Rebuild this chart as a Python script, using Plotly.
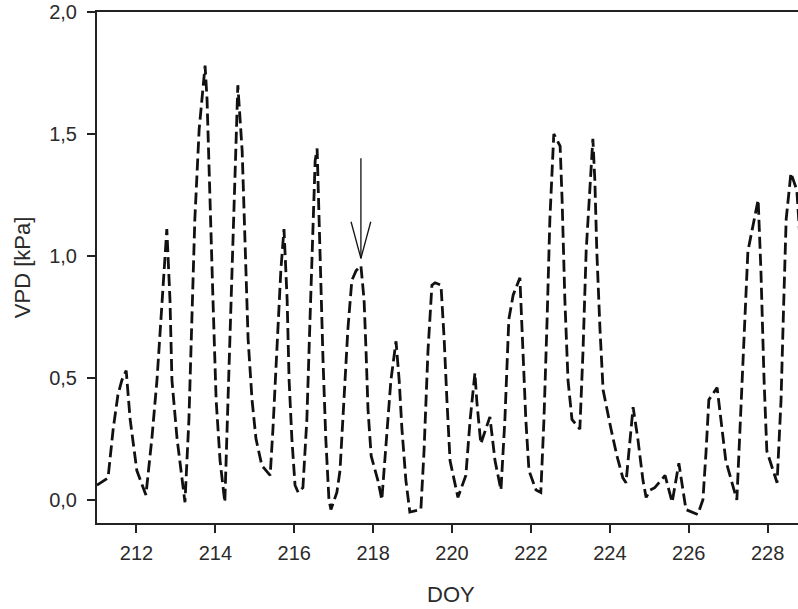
import plotly.graph_objects as go

doy = [211.00, 211.28, 211.41, 211.53, 211.63, 211.74, 211.84, 212.01, 212.24, 212.39,
       212.52, 212.62, 212.72, 212.77, 212.85, 212.90, 213.03, 213.23, 213.33, 213.41,
       213.48, 213.59, 213.74, 213.79, 213.86, 213.94, 214.02, 214.12, 214.24, 214.32,
       214.40, 214.47, 214.57, 214.68, 214.75, 214.83, 214.93, 215.03, 215.18, 215.39,
       215.46, 215.56, 215.66, 215.74, 215.82, 215.87, 215.94, 216.02, 216.10, 216.22,
       216.32, 216.40, 216.48, 216.53, 216.58, 216.65, 216.73, 216.80, 216.88, 216.93,
       217.08, 217.16, 217.26, 217.36, 217.46, 217.57, 217.69, 217.77, 217.82, 217.87,
       217.95, 218.12, 218.22, 218.33, 218.45, 218.58, 218.66, 218.73, 218.83, 218.93,
       219.21, 219.29, 219.39, 219.49, 219.57, 219.72, 219.80, 219.87, 219.95, 220.15,
       220.35, 220.46, 220.58, 220.63, 220.73, 220.96, 221.09, 221.24, 221.34, 221.44,
       221.55, 221.72, 221.80, 221.87, 221.95, 222.13, 222.25, 222.33, 222.41, 222.48,
       222.58, 222.74, 222.79, 222.86, 222.94, 223.04, 223.24, 223.32, 223.40, 223.57,
       223.62, 223.67, 223.75, 223.83, 224.03, 224.18, 224.33, 224.41, 224.59, 224.71,
       224.84, 224.92, 225.02, 225.14, 225.40, 225.58, 225.75, 225.93, 226.23, 226.36,
       226.44, 226.51, 226.72, 226.82, 226.94, 227.22, 227.30, 227.40, 227.50, 227.76,
       227.83, 227.91, 227.98, 228.24, 228.34, 228.41, 228.47, 228.59, 228.74, 228.82]

vpd = [0.06, 0.09, 0.29, 0.43, 0.49, 0.53, 0.33, 0.12, 0.02, 0.25,
       0.49, 0.74, 0.99, 1.11, 0.82, 0.49, 0.25, -0.01, 0.33, 0.74,
       1.15, 1.52, 1.78, 1.64, 1.23, 0.82, 0.41, 0.16, -0.01, 0.41,
       0.82, 1.23, 1.70, 1.43, 1.02, 0.66, 0.41, 0.25, 0.14, 0.10,
       0.29, 0.61, 0.94, 1.11, 0.82, 0.49, 0.25, 0.06, 0.03, 0.05,
       0.33, 0.74, 1.15, 1.39, 1.44, 0.98, 0.57, 0.25, 0.00, -0.04,
       0.03, 0.12, 0.41, 0.70, 0.90, 0.94, 0.96, 0.82, 0.61, 0.37,
       0.18, 0.08, 0.00, 0.25, 0.49, 0.65, 0.49, 0.29, 0.08, -0.05,
       -0.04, 0.20, 0.61, 0.88, 0.89, 0.88, 0.66, 0.41, 0.16, 0.01,
       0.10, 0.33, 0.52, 0.40, 0.23, 0.34, 0.16, 0.04, 0.33, 0.74,
       0.84, 0.91, 0.61, 0.33, 0.12, 0.04, 0.03, 0.33, 0.74, 1.15,
       1.50, 1.45, 1.23, 0.82, 0.49, 0.33, 0.29, 0.61, 1.02, 1.48,
       1.31, 1.02, 0.70, 0.45, 0.29, 0.18, 0.09, 0.07, 0.38, 0.25,
       0.08, 0.01, 0.04, 0.05, 0.10, -0.01, 0.15, -0.04, -0.06, 0.00,
       0.20, 0.41, 0.46, 0.33, 0.16, 0.00, 0.29, 0.70, 1.02, 1.23,
       0.94, 0.49, 0.20, 0.07, 0.41, 0.82, 1.15, 1.34, 1.27, 1.07]

x_ticks = [212, 214, 216, 218, 220, 222, 224, 226, 228]
y_ticks = [0.0, 0.5, 1.0, 1.5, 2.0]

arrow_x = 217.69
arrow_tip = 0.99
arrow_tail = 1.40
head_y = 1.14
head_half = 0.25

fig = go.Figure()
fig.add_trace(go.Scatter(
    x=doy, y=vpd, mode="lines",
    line=dict(color="#111111", width=2.8, dash="12px,5px"),
    showlegend=False, hoverinfo="skip"))

# arrow annotation drawn with line shapes
for x0, y0 in [(arrow_x, arrow_tail), (arrow_x - head_half, head_y), (arrow_x + head_half, head_y)]:
    fig.add_shape(type="line", xref="x", yref="y", x0=x0, y0=y0, x1=arrow_x, y1=arrow_tip,
                  line=dict(color="#111111", width=1.3))

FAM = "Liberation Sans, Arial, sans-serif"
tick_font = dict(family=FAM, size=20, color="#2a2a2a")
title_font = dict(family=FAM, size=22, color="#2a2a2a")

fig.update_layout(
    width=798, height=609,
    margin=dict(l=97, r=0, t=12, b=86),
    plot_bgcolor="white", paper_bgcolor="white",
    separators=",.",
    font=tick_font,
    xaxis=dict(range=[211.0, 228.77], tickvals=x_ticks, ticks="outside", ticklen=8,
               tickwidth=1.5, tickcolor="#222222", showline=True, linecolor="#222222",
               linewidth=2, mirror=True, showgrid=False, zeroline=False,
               tickfont=tick_font, ticklabelstandoff=3),
    yaxis=dict(range=[-0.095, 2.0], tickvals=y_ticks, tickformat=".1f", ticks="outside",
               ticklen=8, tickwidth=1.5, tickcolor="#222222", showline=True,
               linecolor="#222222", linewidth=2, showgrid=False, zeroline=False,
               tickfont=tick_font, ticklabelstandoff=6),
    annotations=[
        dict(text="DOY", xref="paper", yref="paper", x=0.505, y=-0.140,
             xanchor="center", yanchor="middle", showarrow=False, font=title_font),
        dict(text="VPD [kPa]", xref="paper", yref="paper", x=-0.106, y=0.50,
             xanchor="center", yanchor="middle", showarrow=False, textangle=-90,
             font=title_font),
    ],
)

fig.write_html("out.html")
